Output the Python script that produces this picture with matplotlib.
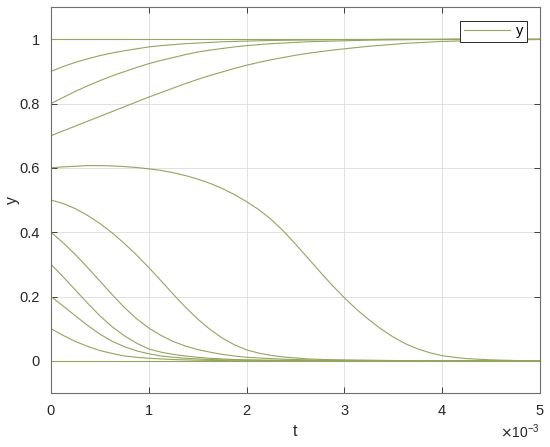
import numpy as np
import matplotlib
matplotlib.use("Agg")
import matplotlib.pyplot as plt
from matplotlib.ticker import ScalarFormatter, FormatStrFormatter

plt.rcParams['font.family'] = ['Liberation Sans', 'DejaVu Sans']

# time samples, 0.125 ms apart (s)
t = np.arange(41) * 0.125e-3

# curves, one per initial value (41 samples each)
y00 = [0.0] * 41
y01 = [0.100, 0.079, 0.060, 0.045, 0.032, 0.023, 0.015, 0.011, 0.008, 0.006,
       0.004, 0.003, 0.002, 0.0015, 0.001] + [0.0] * 26
y02 = [0.200, 0.170, 0.140, 0.110, 0.083, 0.061, 0.044, 0.031, 0.022, 0.015,
       0.011, 0.008, 0.006, 0.004, 0.003, 0.0025, 0.002, 0.0015, 0.001] + [0.0] * 22
y03 = [0.300, 0.261, 0.220, 0.179, 0.140, 0.106, 0.078, 0.055, 0.037, 0.027,
       0.020, 0.015, 0.011, 0.008, 0.006, 0.004, 0.003, 0.0025, 0.002, 0.0015,
       0.001] + [0.0] * 20
y04 = [0.400, 0.367, 0.330, 0.290, 0.248, 0.206, 0.166, 0.131, 0.102, 0.079,
       0.060, 0.046, 0.035, 0.027, 0.020, 0.015, 0.011, 0.009, 0.007, 0.005,
       0.004, 0.003, 0.002, 0.0015, 0.001] + [0.0] * 16
y05 = [0.500, 0.489, 0.473, 0.452, 0.427, 0.398, 0.365, 0.329, 0.290, 0.249,
       0.207, 0.167, 0.130, 0.098, 0.071, 0.050, 0.034, 0.024, 0.017, 0.012,
       0.009, 0.006, 0.0045, 0.0035, 0.003, 0.0025, 0.002, 0.0015, 0.001] + [0.0] * 12
y06 = [0.600, 0.603, 0.605, 0.607, 0.607, 0.606, 0.604, 0.601, 0.597, 0.592,
       0.585, 0.576, 0.565, 0.552, 0.536, 0.517, 0.495, 0.470, 0.440, 0.404,
       0.363, 0.320, 0.277, 0.235, 0.196, 0.160, 0.128, 0.099, 0.074, 0.053,
       0.037, 0.025, 0.016, 0.011, 0.007, 0.005, 0.003, 0.002, 0.001, 0.0005,
       0.0]
y07 = [0.700, 0.715, 0.730, 0.745, 0.760, 0.775, 0.790, 0.805, 0.820, 0.834,
       0.848, 0.862, 0.875, 0.887, 0.898, 0.909, 0.919, 0.928, 0.936, 0.943,
       0.950, 0.956, 0.961, 0.966, 0.970, 0.974, 0.978, 0.981, 0.984, 0.987,
       0.989, 0.991, 0.993, 0.994, 0.995, 0.996, 0.997, 0.9975, 0.998, 0.9985,
       0.999]
y08 = [0.800, 0.819, 0.838, 0.855, 0.871, 0.886, 0.899, 0.912, 0.924, 0.934,
       0.943, 0.952, 0.960, 0.966, 0.971, 0.976, 0.980, 0.983, 0.986, 0.988,
       0.990, 0.992, 0.993, 0.994, 0.995, 0.996, 0.997, 0.9975, 0.998, 0.9985,
       0.999, 0.999, 0.999] + [1.0] * 8
y09 = [0.900, 0.915, 0.928, 0.939, 0.949, 0.957, 0.964, 0.970, 0.976, 0.980,
       0.983, 0.986, 0.988, 0.990, 0.992, 0.993, 0.994, 0.995, 0.996, 0.9965,
       0.997, 0.9975, 0.998, 0.9985, 0.999, 0.999, 0.999, 0.9995] + [1.0] * 13
y10 = [1.0] * 41

curves = [y00, y01, y02, y03, y04, y05, y06, y07, y08, y09, y10]

line_color = '#93a55e'
axis_color = '#262626'

fig = plt.figure(figsize=(5.5, 4.47), dpi=100)
ax = fig.add_axes([0.0927, 0.1208, 0.8891, 0.8635])

for i, yy in enumerate(curves):
    ax.plot(t, yy, color=line_color, linewidth=0.8, label='y' if i == 0 else None)

ax.set_xlim(0, 5e-3)
ax.set_ylim(-0.1, 1.1)
ax.set_xticks(np.arange(0, 6) * 1e-3)
ax.set_yticks([0, 0.2, 0.4, 0.6, 0.8, 1.0])

fmt = ScalarFormatter(useMathText=True)
fmt.set_powerlimits((-2, 2))
ax.xaxis.set_major_formatter(fmt)
ax.yaxis.set_major_formatter(FormatStrFormatter('%g'))
ax.xaxis.get_offset_text().set_fontsize(10)
ax.xaxis.get_offset_text().set_color(axis_color)

ax.grid(True, color='#dcdcdc', linewidth=0.6)
ax.set_axisbelow(True)
ax.tick_params(direction='in', top=True, right=True, length=4, width=0.6,
               colors=axis_color, labelsize=10.5, pad=8)
for s in ax.spines.values():
    s.set_color('#6e6e6e')
    s.set_linewidth(0.8)

ax.set_xlabel('t', fontsize=11.5, color=axis_color, labelpad=4)
ax.set_ylabel('y', fontsize=11.5, color=axis_color, labelpad=0)

leg = ax.legend(loc='upper right', bbox_to_anchor=(0.974, 0.965), fontsize=10.5,
                fancybox=False, framealpha=1, edgecolor='#262626',
                handlelength=3.2, borderpad=0.25, handletextpad=0.4,
                borderaxespad=0)
leg.get_frame().set_linewidth(0.7)

fig.savefig('out.png', dpi=100)
